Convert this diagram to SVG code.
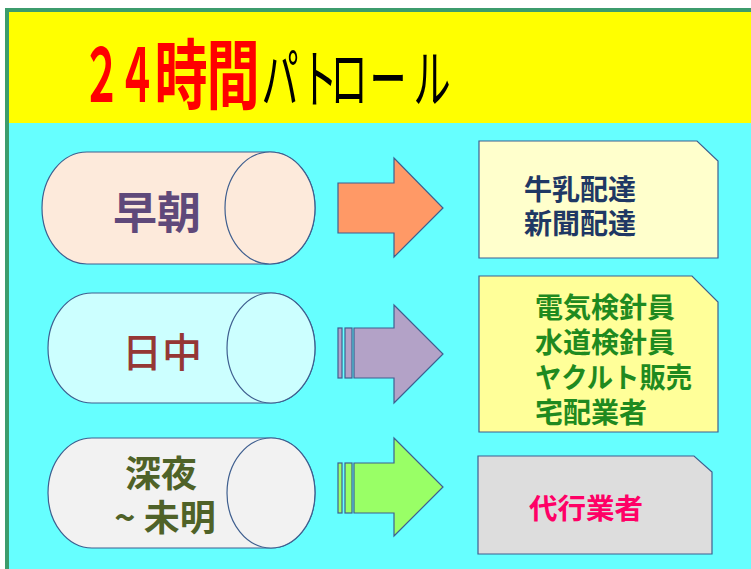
<svg xmlns="http://www.w3.org/2000/svg" width="751" height="569" viewBox="0 0 751 569">
<style>
  .shape { stroke: #3f5f8f; stroke-width: 1.2; }
  .jp { font-family: "Noto Sans CJK JP", "Noto Sans", sans-serif; }
  .b { font-weight: bold; }
</style>
<rect x="0" y="0" width="751" height="569" fill="#ffffff"/>
<rect x="7" y="10" width="770" height="590" fill="#66ffff" stroke="#3c9c6c" stroke-width="4"/>
<rect x="9" y="12" width="745" height="111" fill="#ffff00"/>
<g id="title">
  <text class="jp b" transform="scale(0.52,1)" x="195.2 263.5" y="102" text-anchor="middle" font-size="74" fill="#ff0000">２４</text>
  <text class="jp b" transform="scale(0.7,1)" x="258.6 332.9" y="103" text-anchor="middle" font-size="76" fill="#ff0000">時間</text>
  <text class="jp" transform="scale(0.58,1)" x="482.8 550 601.7 669 744.8" y="102" text-anchor="middle" font-size="64" fill="#000000">パトロール</text>
</g>
<g id="cyl-morning">
  <path class="shape" d="M87,152 L270,152 A45,56 0 0 1 270,264 L87,264 A45,56 0 0 1 87,152 Z" fill="#fdeadb"/>
  <ellipse class="shape" cx="270" cy="208" rx="45" ry="56" fill="#fdeadb"/>
  <text class="jp b" x="157" y="229" text-anchor="middle" font-size="44" fill="#5f497a">早朝</text>
</g>
<g id="cyl-day">
  <path class="shape" d="M92,293 L271,293 A44,55 0 0 1 271,403 L92,403 A44,55 0 0 1 92,293 Z" fill="#ccffff"/>
  <ellipse class="shape" cx="271" cy="348" rx="44" ry="55" fill="#ccffff"/>
  <text class="jp" x="162" y="367" text-anchor="middle" font-size="40" fill="#953735" font-weight="500">日中</text>
</g>
<g id="cyl-night">
  <path class="shape" d="M92,438 L271,438 A44,55 0 0 1 271,548 L92,548 A44,55 0 0 1 92,438 Z" fill="#f2f2f2"/>
  <ellipse class="shape" cx="271" cy="493" rx="44" ry="55" fill="#f2f2f2"/>
  <text class="jp b" x="161" y="487" text-anchor="middle" font-size="36" fill="#4f6228">深夜</text>
  <text class="jp b" x="165" y="531" text-anchor="middle" font-size="36" fill="#4f6228">~ 未明</text>
</g>
<g id="connectors">
  <polygon class="shape" points="338,183 394,183 394,158 443,208 394,257 394,233 338,233" fill="#ff9966"/>
  <rect class="shape" x="338" y="328" width="4" height="50" fill="#b3a2c7"/>
  <rect class="shape" x="345" y="328" width="7" height="50" fill="#b3a2c7"/>
  <polygon class="shape" points="354,328 394,328 394,305 443,354 394,403 394,378 354,378" fill="#b3a2c7"/>
  <rect class="shape" x="338" y="463" width="4" height="50" fill="#99ff66"/>
  <rect class="shape" x="345" y="463" width="7" height="50" fill="#99ff66"/>
  <polygon class="shape" points="354,463 394,463 394,438 443,487 394,536 394,513 354,513" fill="#99ff66"/>
</g>
<g id="box-morning">
  <path class="shape" d="M479,141 L697,141 L718,161 L718,258 L479,258 Z" fill="#ffffcc"/>
  <text class="jp b" x="524" y="200" font-size="28" fill="#1f3864">牛乳配達</text>
  <text class="jp b" x="524" y="234" font-size="28" fill="#1f3864">新聞配達</text>
</g>
<g id="box-day">
  <path class="shape" d="M479,276 L692,276 L718,302 L718,432 L479,432 Z" fill="#ffff99"/>
  <text class="jp b" x="535" y="318" font-size="28" fill="#1f8a1f">電気検針員</text>
  <text class="jp b" x="535" y="353" font-size="28" fill="#1f8a1f">水道検針員</text>
  <text class="jp b" x="535" y="388" font-size="28" fill="#1f8a1f" textLength="157" lengthAdjust="spacingAndGlyphs">ヤクルト販売</text>
  <text class="jp b" x="535" y="423" font-size="28" fill="#1f8a1f">宅配業者</text>
</g>
<g id="box-night">
  <path class="shape" d="M478,456 L694,456 L712,472 L712,554 L478,554 Z" fill="#dddddd"/>
  <text class="jp b" x="529" y="519" font-size="28.5" fill="#ff0066">代行業者</text>
</g>
</svg>
